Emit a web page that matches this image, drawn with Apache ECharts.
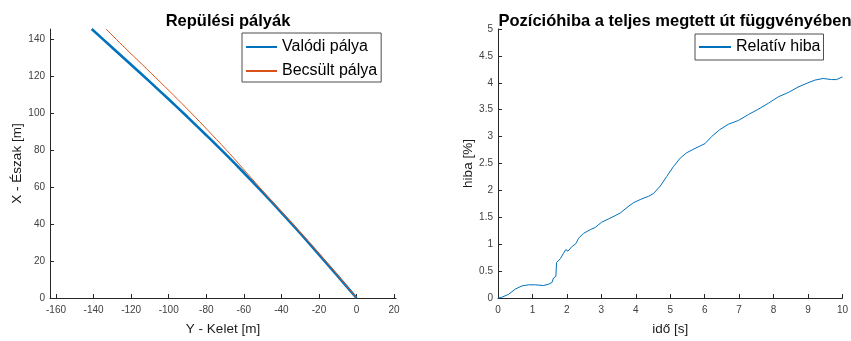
<!DOCTYPE html>
<html>
<head>
<meta charset="utf-8">
<script src="https://cdn.jsdelivr.net/npm/echarts@6/dist/echarts.min.js"></script>
<style>
  html, body { margin: 0; padding: 0; background: #fff; }
  #chart { width: 851px; height: 341px; }
</style>
</head>
<body>
<div id="chart"></div>
<script>
// Flight paths: east (Y) and north (X) coordinates in metres
const trueEast  = [0, -10, -20, -30, -40, -50, -60, -70, -80, -90, -100, -110, -120, -130, -141];
const trueNorth = [0, 11.8, 23.5, 35.0, 46.2, 57.1, 67.7, 78.0, 88.0, 97.8, 107.4, 116.8, 126.1, 135.3, 145.4];
const estEast   = [0, -9.6, -19.5, -29.5, -39.6, -49.3, -58.5, -67.5, -76.7, -85.9, -95.2, -104.6, -114.0, -123.4, -133.4];
const estNorth  = [0, 11.8, 23.5, 35.0, 46.2, 57.1, 67.7, 78.0, 88.0, 97.8, 107.4, 116.8, 126.1, 135.3, 145.4];

// Relative position error over time
const timeSec = [0, 0.1, 0.31, 0.5, 0.7, 0.89, 1.08, 1.32, 1.47, 1.57, 1.61, 1.68, 1.70, 1.81, 1.90, 1.97,
  2.03, 2.14, 2.26, 2.34, 2.48, 2.68, 2.82, 3.01, 3.21, 3.40, 3.55, 3.74, 3.93, 4.13, 4.37, 4.51, 4.71,
  4.90, 5.09, 5.29, 5.48, 5.72, 6.01, 6.20, 6.44, 6.69, 6.98, 7.27, 7.56, 7.85, 8.14, 8.43, 8.71, 9.00,
  9.20, 9.44, 9.68, 9.83, 10.0];
const errPct = [0, 0.01, 0.07, 0.165, 0.226, 0.245, 0.245, 0.232, 0.257, 0.29, 0.37, 0.40, 0.66, 0.73,
  0.83, 0.90, 0.87, 0.95, 1.01, 1.11, 1.20, 1.27, 1.31, 1.41, 1.47, 1.53, 1.58, 1.68, 1.77, 1.83, 1.89,
  1.94, 2.08, 2.26, 2.44, 2.60, 2.70, 2.78, 2.87, 3.00, 3.13, 3.23, 3.30, 3.41, 3.51, 3.62, 3.74, 3.82,
  3.92, 4.00, 4.05, 4.08, 4.06, 4.06, 4.11];

// Tick labels
const eastTicks  = [-160, -140, -120, -100, -80, -60, -40, -20, 0, 20];
const northTicks = [0, 20, 40, 60, 80, 100, 120, 140];

const FONT = '"Liberation Sans", Arial, Helvetica, sans-serif';
const AX = '#262626';
const LBL = '#404040';
const BLUE = '#0072BD';
const ORANGE = '#D95319';

function pairs(xs, ys) { return xs.map((x, i) => [x, ys[i]]); }

function baseAxis(extra) {
  return Object.assign({
    type: 'value',
    splitLine: { show: false },
    axisLine: { show: true, onZero: false, lineStyle: { color: AX, width: 1 } },
    axisTick: { show: true, inside: true, length: 4, lineStyle: { color: AX } },
    axisLabel: { color: LBL, fontFamily: FONT, fontSize: 10 },
    nameLocation: 'middle',
    nameTextStyle: { color: '#1a1a1a', fontFamily: FONT, fontSize: 13.5 }
  }, extra);
}

const chart = echarts.init(document.getElementById('chart'), null, { renderer: 'canvas' });

const legendCommon = {
  orient: 'vertical', itemWidth: 31, itemHeight: 14,
  borderColor: '#4d4d4d', borderWidth: 1, backgroundColor: '#fff',
  itemStyle: { opacity: 0 },
  textStyle: { fontFamily: FONT, fontSize: 16, color: '#000' }
};

chart.setOption({
  animation: false,
  backgroundColor: '#ffffff',
  title: [
    { text: 'Repülési pályák', left: 223, top: 8, textAlign: 'center',
      textStyle: { fontFamily: FONT, fontSize: 16.5, fontWeight: 'bold', color: '#000' } },
    { text: 'Pozícióhiba a teljes megtett út függvényében', left: 670, top: 8, textAlign: 'center',
      textStyle: { fontFamily: FONT, fontSize: 16.5, fontWeight: 'bold', color: '#000' } }
  ],
  grid: [
    { left: 50, top: 29, width: 346, height: 273 },
    { left: 498, top: 29, width: 345, height: 273 }
  ],
  xAxis: [
    baseAxis({
      gridIndex: 0, min: -163.2, max: 21, name: 'Y - Kelet [m]', nameGap: 24,
      axisTick: { show: true, inside: true, length: 4, lineStyle: { color: AX }, customValues: eastTicks },
      axisLabel: { color: LBL, fontFamily: FONT, fontSize: 10, margin: 7, customValues: eastTicks }
    }),
    baseAxis({
      gridIndex: 1, min: 0, max: 10, interval: 1, name: 'idő [s]', nameGap: 24,
      axisLabel: { color: LBL, fontFamily: FONT, fontSize: 10, margin: 7 }
    })
  ],
  yAxis: [
    baseAxis({
      gridIndex: 0, min: 0, max: 145.4, name: 'X - Észak [m]', nameGap: 26,
      axisTick: { show: true, inside: true, length: 4, lineStyle: { color: AX }, customValues: northTicks },
      axisLabel: { color: LBL, fontFamily: FONT, fontSize: 10, margin: 5, customValues: northTicks }
    }),
    baseAxis({
      gridIndex: 1, min: 0, max: 5, interval: 0.5, name: 'hiba [%]', nameGap: 23,
      axisLabel: { color: LBL, fontFamily: FONT, fontSize: 10, margin: 5 }
    })
  ],
  legend: [
    Object.assign({}, legendCommon, {
      left: 242, top: 33, padding: [6, 4, 3, 3], itemGap: 8,
      data: ['Valódi pálya', 'Becsült pálya']
    }),
    Object.assign({}, legendCommon, {
      left: 695, top: 34, padding: [5, 3, 5, 3], itemWidth: 32,
      data: ['Relatív hiba']
    })
  ],
  series: [
    {
      name: 'Valódi pálya', type: 'line', xAxisIndex: 0, yAxisIndex: 0,
      data: pairs(trueEast, trueNorth), symbol: 'none', smooth: 0.3, clip: false,
      lineStyle: { color: BLUE, width: 2.6 }, itemStyle: { color: BLUE }
    },
    {
      name: 'Becsült pálya', type: 'line', xAxisIndex: 0, yAxisIndex: 0,
      data: pairs(estEast, estNorth), symbol: 'none', smooth: 0.3, clip: false,
      lineStyle: { color: ORANGE, width: 1 }, itemStyle: { color: ORANGE }
    },
    {
      name: 'Relatív hiba', type: 'line', xAxisIndex: 1, yAxisIndex: 1,
      data: pairs(timeSec, errPct), symbol: 'none', clip: false,
      lineStyle: { color: BLUE, width: 1 }, itemStyle: { color: BLUE }
    }
  ]
});
</script>
</body>
</html>
